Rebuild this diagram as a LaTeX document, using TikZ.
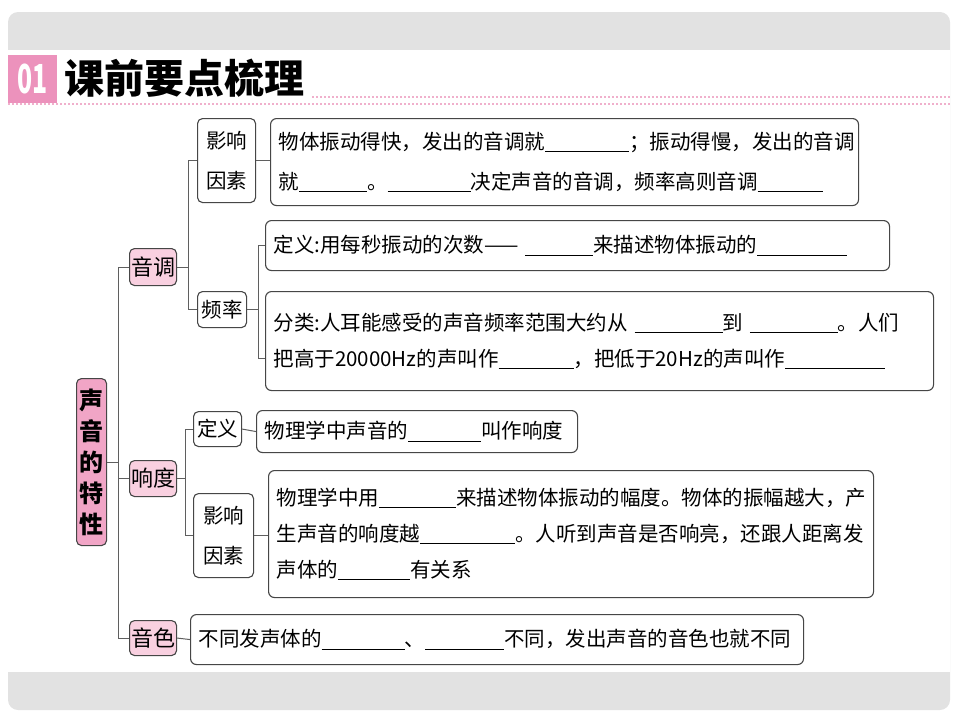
\documentclass[tikz,border=0pt]{standalone}
\usepackage{fontspec}
\setmainfont{Noto Sans CJK SC}
\usepackage{tikz}
\definecolor{band}{RGB}{226, 226, 226}
\definecolor{rootpink}{RGB}{241, 165, 198}
\definecolor{keypink}{RGB}{249, 208, 224}
\definecolor{headpink}{RGB}{236, 146, 188}
\definecolor{dotpink}{RGB}{240, 176, 204}
\definecolor{edge}{RGB}{70, 70, 70}
\definecolor{wire}{RGB}{95, 95, 95}
\newcommand{\blankline}[1]{\rule[-3pt]{#1pt}{1.1pt}}
\tikzset{
  textbox/.style={draw=edge, line width=1.1pt, rounded corners=6pt, anchor=north west,
    inner xsep=8pt, inner ysep=0pt, align=left, font=\fontsize{20.5}{36}\selectfont},
  keybox/.style={draw=edge, line width=1.1pt, rounded corners=5pt, fill=white, anchor=north west,
    inner sep=0pt, align=center, font=\fontsize{20.5}{40}\selectfont},
  pinkbox/.style={keybox, fill=keypink, font=\fontsize{22}{26}\selectfont},
  wire/.style={draw=wire, line width=1pt}
}

\begin{document}
\begin{tikzpicture}[x=1pt, y=-1pt]
  \useasboundingbox (0,0) rectangle (960,720);
  % Frame
  \fill [rounded corners=10pt, band] (8,12) rectangle (950,710);
  \fill [white] (8,50) rectangle (950,672);

  % Header
  \fill [headpink] (8,55) rectangle (57,103);
  \node [white, font=\fontsize{40}{42}\selectfont\bfseries] (num) at (32.5,79) {\scalebox{0.62}[1]{01}};
  \node [anchor=west, font=\fontsize{40}{44}\selectfont\bfseries] (title) at (61,78) {课前要点梳理};
  \draw [dotpink, line width=2pt, dash pattern=on 1.5pt off 2.5pt] (312,97) -- (950,97);
  \draw [dotpink, line width=2pt, dash pattern=on 1.5pt off 2.5pt] (8,104) -- (950,104);

  % Root and main branches
  \node [keybox, fill=rootpink, minimum width=30pt, minimum height=167pt,
    font=\fontsize{24}{31}\selectfont\bfseries] (root) at (76,378) {声\\音\\的\\特\\性};
  \node [pinkbox, minimum width=47pt, minimum height=37pt] (tone) at (129,248) {音调};
  \node [pinkbox, minimum width=47pt, minimum height=36pt] (loud) at (129,460) {响度};
  \node [pinkbox, minimum width=47pt, minimum height=35pt] (timbre) at (129,620) {音色};

  % Tone
  \node [keybox, minimum width=58pt, minimum height=84pt] (toneFactor) at (197,118) {影响\\因素};
  \node [keybox, minimum width=49pt, minimum height=36pt] (toneFreq) at (197,291) {频率};
  \node [textbox, text width=572pt, minimum height=87pt, font=\fontsize{20.5}{40}\selectfont]
    (toneFactorText) at (270,118)
    {物体振动得快，发出的音调就\blankline{84}；振动得慢，发出的音调\\
     就\blankline{68}。\blankline{83}决定声音的音调，频率高则音调\blankline{65}};
  \node [textbox, text width=608pt, minimum height=50pt] (freqDef) at (265,220)
    {定义:用每秒振动的次数——\ \blankline{68}来描述物体振动的\blankline{90}};
  \node [textbox, text width=652pt, minimum height=99pt] (freqClass) at (265,291)
    {分类:人耳能感受的声音频率范围大约从\ \blankline{88}到\ \blankline{88}。人们\\
     把高于20000Hz的声叫作\blankline{75}，把低于20Hz的声叫作\blankline{100}};

  % Loudness
  \node [keybox, minimum width=48pt, minimum height=35pt] (loudDef) at (193,411) {定义};
  \node [keybox, minimum width=60pt, minimum height=84pt] (loudFactor) at (193,493) {影响\\因素};
  \node [textbox, text width=305pt, minimum height=42pt] (loudDefText) at (256,410)
    {物理学中声音的\blankline{73}叫作响度};
  \node [textbox, text width=589pt, minimum height=127pt] (loudFactorText) at (268,470)
    {物理学中用\blankline{77}来描述物体振动的幅度。物体的振幅越大，产\\
     生声音的响度越\blankline{95}。人听到声音是否响亮，还跟人距离发\\
     声体的\blankline{72}有关系};

  % Timbre
  \node [textbox, text width=597pt, minimum height=50pt] (timbreText) at (190,614)
    {不同发声体的\blankline{83}、\blankline{79}不同，发出声音的音色也就不同};

  % Connectors
  \coordinate (trunk) at (118,0);
  \coordinate (forkA) at (188,0);
  \coordinate (forkB) at (258,0);
  \coordinate (forkC) at (185,0);
  \draw [wire] (root.east) -- (root.east -| trunk);
  \draw [wire] (tone.west) -- (tone.west -| trunk) -- (timbre.west -| trunk) -- (timbre.west);
  \draw [wire] (loud.west) -- (loud.west -| trunk);
  \draw [wire] (tone.east) -- (tone.east -| forkA);
  \draw [wire] (toneFactor.west) -- (toneFactor.west -| forkA) -- (toneFreq.west -| forkA) -- (toneFreq.west);
  \draw [wire] (toneFactor.east) -- (toneFactor.east -| toneFactorText.west);
  \draw [wire] (toneFreq.east) -- (toneFreq.east -| forkB);
  \draw [wire] (freqDef.west) -- (freqDef.west -| forkB) -- ([yshift=-17pt]freqClass.west -| forkB)
    -- ([yshift=-17pt]freqClass.west);
  \draw [wire] (loud.east) -- (loud.east -| forkC);
  \draw [wire] (loudDef.west) -- (loudDef.west -| forkC) -- (loudFactor.west -| forkC) -- (loudFactor.west);
  \draw [wire] (loudDef.east) -- (loudDefText.west);
  \draw [wire] (loudFactor.east) -- (loudFactor.east -| loudFactorText.west);
  \draw [wire] (timbre.east) -- (timbreText.west);
\end{tikzpicture}
\end{document}
